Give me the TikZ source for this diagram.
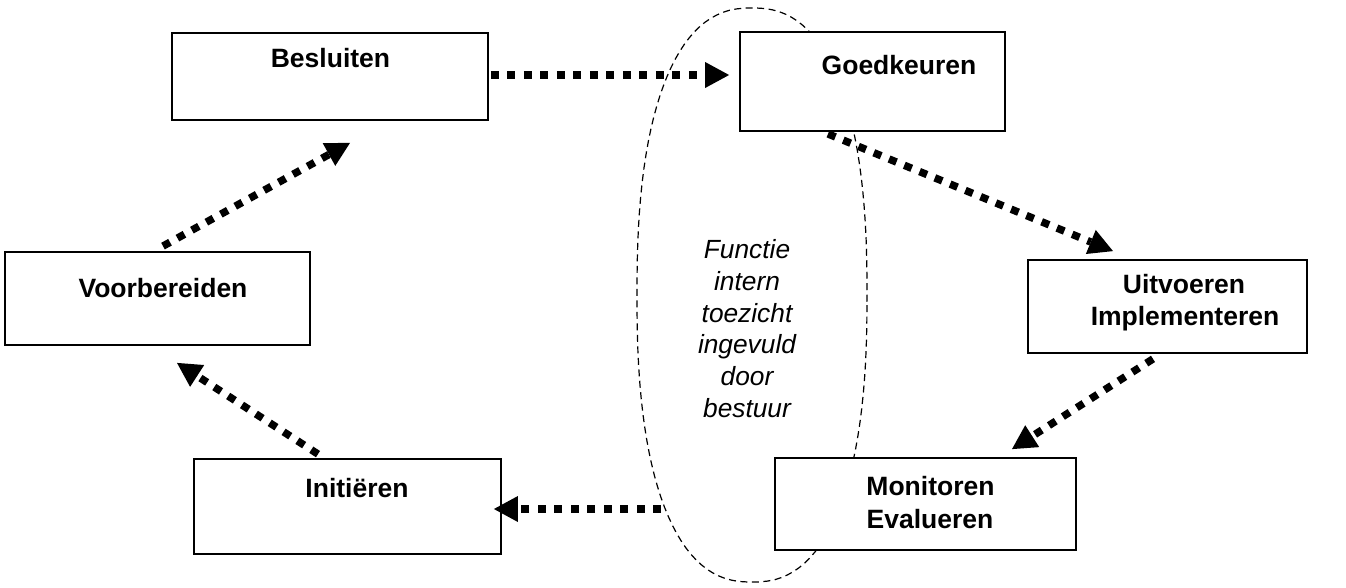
\documentclass[tikz,border=0pt]{standalone}
\usepackage{fontspec}
\setmainfont{Liberation Sans}
\usetikzlibrary{arrows.meta,calc}
\begin{document}
\begin{tikzpicture}[x=1pt,y=-1pt,
  box/.style={draw=black, fill=white, line width=1.8pt, inner sep=0pt},
  lbl/.style={font=\fontsize{26.5}{32}\selectfont\bfseries, anchor=base, inner sep=0pt},
  note/.style={font=\fontsize{26.3}{32}\selectfont\itshape, anchor=base, inner sep=0pt},
  flow/.style={line width=7.5pt, dash pattern=on 8pt off 8.5pt,
    -{Triangle[length=24pt,width=26pt,line width=0pt]}},
  ring/.style={draw=black, line width=1.2pt, dash pattern=on 7pt off 4.5pt}]
\useasboundingbox (0,0) rectangle (1346,587);
\fill[white] (0,0) rectangle (1346,587);
% dashed oval (behind the boxes)
\draw[ring] plot[domain=1:361, samples=121, variable=\t]
  ({752+115*sign(cos(\t))*abs(cos(\t))^(0.83)}, {295+287*sign(sin(\t))*abs(sin(\t))^(0.83)}) -- cycle;
% boxes
\node[box, minimum width=316pt, minimum height=87pt] (besl) at (330,76.5) {};
\node[box, minimum width=265pt, minimum height=99pt] (goed) at (872.5,81.5) {};
\node[box, minimum width=279pt, minimum height=93pt] (uitv) at (1167.5,306.5) {};
\node[box, minimum width=305pt, minimum height=93pt] (voor) at (157.5,298.5) {};
\node[box, minimum width=301pt, minimum height=92pt] (moni) at (925.5,504) {};
\node[box, minimum width=307pt, minimum height=95pt] (init) at (347.5,506.5) {};
% labels
\node[lbl] (tbesl) at (330.5,67) {Besluiten};
\node[lbl] (tgoed) at (899,74) {Goedkeuren};
\node[lbl] (tvoor) at (163,297) {Voorbereiden};
\node[lbl] (tuitv) at (1184,293) {Uitvoeren};
\node[lbl] (timpl) at (1185,325) {Implementeren};
\node[lbl] (tmoni) at (930.5,495) {Monitoren};
\node[lbl] (teval) at (930,528) {Evalueren};
\node[lbl] (tinit) at (357,497) {Initiëren};
% oval text
\node[note] (n1) at (747,258) {Functie};
\node[note] (n2) at (747,290) {intern};
\node[note] (n3) at (747,322) {toezicht};
\node[note] (n4) at (747,353) {ingevuld};
\node[note] (n5) at (747,385) {door};
\node[note] (n6) at (747,417) {bestuur};
% connectors
\coordinate (ringw) at (661,509);
\draw[flow] ($(besl.east)+(2,-1.5)$) -- ($(goed.west)+(-10,-6.5)$);
\draw[flow] ($(goed.south)+(-44.5,2)$) -- ($(uitv.north)+(-54.5,-8)$);
\draw[flow] ($(uitv.south)+(-14.5,5)$) -- ($(moni.north)+(86.5,-8)$);
\draw[flow] (ringw) -- ($(init.east)+(-8,2.5)$);
\draw[flow] ($(init.north)+(-29.5,-4)$) -- ($(voor.south)+(19.5,17)$);
\draw[flow] ($(voor.north)+(5.5,-5)$) -- ($(besl.south)+(20,22)$);
\end{tikzpicture}
\end{document}
